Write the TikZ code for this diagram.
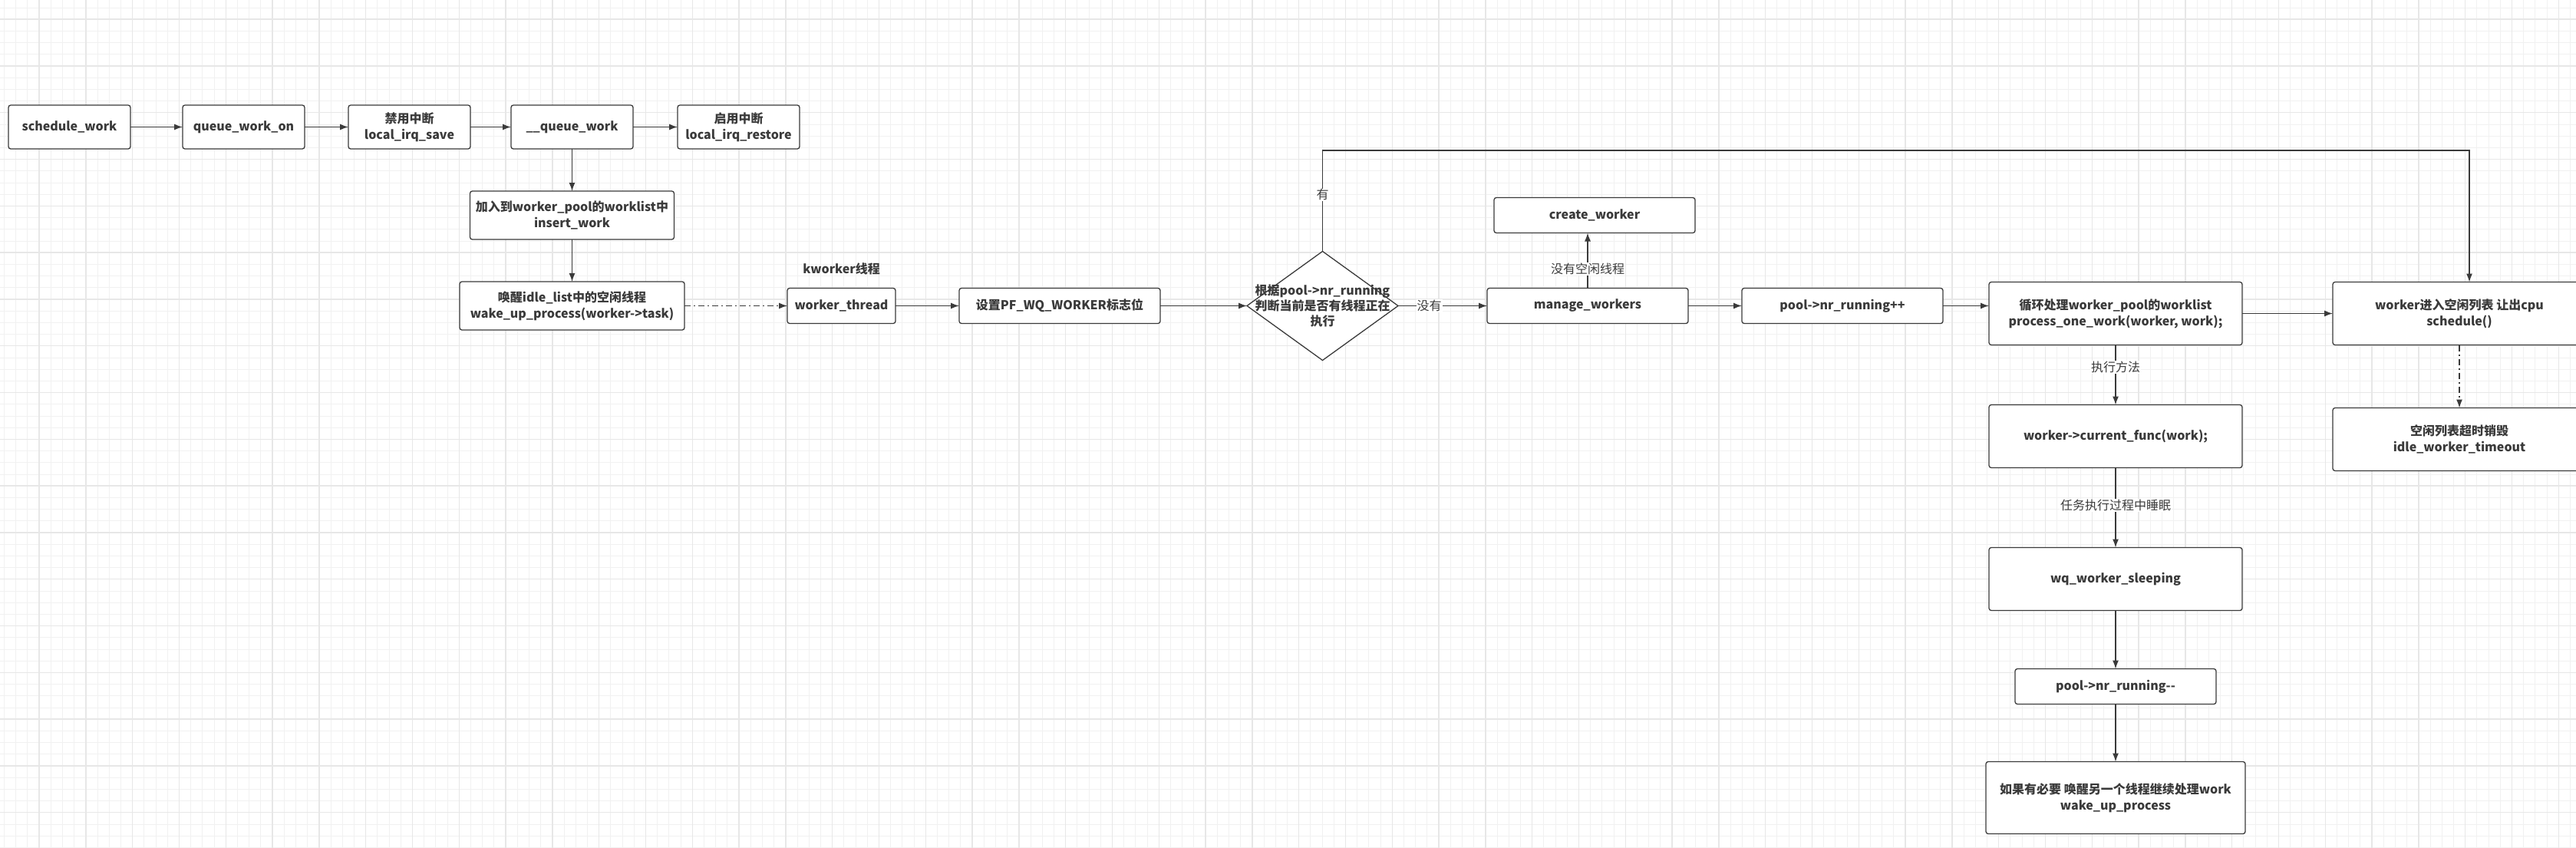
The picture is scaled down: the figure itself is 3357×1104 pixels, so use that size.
\documentclass[tikz,border=0pt]{standalone}
\usepackage{fontspec}
\setmainfont{Noto Sans CJK SC}
\usepackage{tikz}
\usetikzlibrary{shapes,arrows,positioning,calc}
\usetikzlibrary{arrows.meta}
\definecolor{ink}{HTML}{3A3A3A}
\definecolor{gridlo}{HTML}{F1F1F1}
\definecolor{gridhi}{HTML}{E7E7E7}
\tikzset{>={Latex[width=8pt,length=11pt]}}

\begin{document}
\begin{tikzpicture}[x=1pt, y=-1pt, color=ink, line width=1.3pt,
    every node/.style={font=\fontsize{16}{21}\selectfont, align=center},
    box/.style={rectangle, draw, rounded corners=3pt, fill=white, inner sep=2pt, outer sep=0pt, font=\fontsize{16}{21}\selectfont\bfseries},
    rowbox/.style={box, minimum width=159pt, minimum height=57pt},
    slimbox/.style={box, minimum width=262pt, minimum height=46pt},
    bigbox/.style={box, minimum width=330pt, minimum height=82pt},
    judgebox/.style={diamond, draw, fill=white, minimum width=197pt, minimum height=142pt, inner sep=0pt, outer sep=0pt},
    lbl/.style={fill=white, inner sep=1pt},
    dashdot/.style={dash pattern=on 8pt off 4pt on 2pt off 4pt}]
    \useasboundingbox (0,0) rectangle (3357,1104);
    \clip (0,0) rectangle (3357,1104);

    % background grid
    \begin{scope}[shift={(5.5,10)}]
        \draw[gridlo, line width=1pt] (-20,-20) grid[step=15.2pt] (3400,1120);
    \end{scope}
    \begin{scope}[shift={(51,25)}]
        \draw[gridhi, line width=1.4pt] (-70,-40) grid[step=60.8pt] (3400,1120);
    \end{scope}

    % enqueue path
    \node[rowbox] (sched) at (90.5,165.5) {schedule\_work};
    \node[rowbox, right=68pt of sched] (qwo) {queue\_work\_on};
    \node[rowbox, right=57pt of qwo] (irqsave) {禁用中断\\local\_irq\_save};
    \node[rowbox, right=53pt of irqsave] (qw) {\_\_queue\_work};
    \node[rowbox, right=58pt of qw] (irqrestore) {启用中断\\local\_irq\_restore};
    \node[box, below=55pt of qw, minimum width=266pt, minimum height=63pt] (insert) {加入到worker\_pool的worklist中\\insert\_work};
    \node[box, below=55pt of insert, minimum width=293pt, minimum height=63pt] (wakeup) {唤醒idle\_list中的空闲线程\\wake\_up\_process(worker->task)};

    % kworker thread
    \node[box, right=134pt of wakeup, minimum width=141pt, minimum height=46pt] (wt) {worker\_thread};
    \node[above=15pt of wt, inner sep=2pt, font=\fontsize{16}{21}\selectfont\bfseries] (kw) {kworker线程};
    \node[slimbox, right=83pt of wt] (pf) {设置PF\_WQ\_WORKER标志位};
    \node[judgebox, right=113pt of pf] (judge) {};
    \node[inner sep=0pt, font=\fontsize{16}{20}\selectfont\bfseries] (judgetext) at (judge) {根据pool->nr\_running\\判断当前是否有线程正在\\执行};
    \node[slimbox, right=116pt of judge] (manage) {manage\_workers};
    \node[slimbox, above=72pt of manage, xshift=9pt] (create) {create\_worker};
    \node[slimbox, right=70pt of manage] (inc) {pool->nr\_running++};
    \node[bigbox, right=60pt of inc, yshift=-10pt] (loop) {循环处理worker\_pool的worklist\\process\_one\_work(worker, work);};
    \node[bigbox, right=118pt of loop] (yield) {worker进入空闲列表 让出cpu\\schedule()};
    \node[bigbox, below=82pt of yield] (idle) {空闲列表超时销毁\\idle\_worker\_timeout};
    \node[bigbox, below=78pt of loop] (cur) {worker->current\_func(work);};
    \node[bigbox, below=104pt of cur] (sleep) {wq\_worker\_sleeping};
    \node[slimbox, below=76pt of sleep] (dec) {pool->nr\_running-{}-};
    \node[box, below=75pt of dec, minimum width=338pt, minimum height=94pt] (again) {如果有必要 唤醒另一个线程继续处理work\\wake\_up\_process};

    \draw[->] (sched) -- (qwo);
    \draw[->] (qwo) -- (irqsave);
    \draw[->] (irqsave) -- (qw);
    \draw[->] (qw) -- (irqrestore);
    \draw[->] (qw) -- (insert);
    \draw[->] (insert) -- (wakeup);
    \draw[->, dashdot] (wakeup) -- (wt);
    \draw[->] (wt) -- (pf);
    \draw[->] (pf) -- (judge);
    \draw[->] (judge) -- node[lbl, pos=0.35] {没有} (manage);
    \draw[->] (judge.north) -- node[lbl, pos=0.56] {有} (judge.north |- 0,196) -| ([xshift=13pt]yield.north);
    \draw[->] (manage) -- node[lbl, pos=0.35] {没有空闲线程} (manage |- create.south);
    \draw[->] (manage) -- (inc);
    \draw[->] (inc) -- (inc -| loop.west);
    \draw[->] (loop) -- (yield);
    \draw[->, dashdot] (yield) -- (idle);
    \draw[->] (loop) -- node[lbl, pos=0.37] {执行方法} (cur);
    \draw[->] (cur) -- node[lbl, pos=0.47] {任务执行过程中睡眠} (sleep);
    \draw[->] (sleep) -- (dec);
    \draw[->] (dec) -- (again);
\end{tikzpicture}
\end{document}
